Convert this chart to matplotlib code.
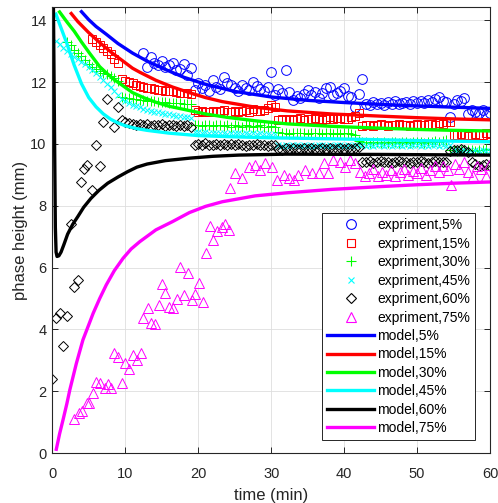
import numpy as np
import matplotlib.pyplot as plt

plt.rcParams['font.family'] = ['Liberation Sans', 'DejaVu Sans']

# experiment data, phase height (mm), sampled every 0.5 min from the start time
start5 = 12.5
h5 = [12.93, 12.5, 12.8, 12.62, 12.55, 12.7, 12.48, 12.56, 12.63, 12.4, 12.42, 12.6, 12.23, 12.46,
      11.75, 11.97, 11.8, 11.9, 11.7, 12.07, 11.85, 11.78, 12.18, 11.97, 11.9, 11.8, 11.72, 11.9,
      11.82, 11.74, 12.0, 11.88, 11.78, 11.7, 11.85, 12.33,
      11.6, 11.78, 11.64, 12.4, 11.69, 11.42, 11.55, 11.48, 11.62, 11.75, 11.58, 11.69, 11.5, 11.64,
      11.8, 11.85, 11.6, 11.64, 11.72, 11.8, 11.55, 11.53, 11.2, 11.62,
      12.1, 11.3, 11.25, 11.35, 11.28, 11.32, 11.26, 11.35, 11.3, 11.38, 11.28, 11.33, 11.36, 11.3,
      11.4, 11.34, 11.38, 11.32, 11.42, 11.36, 11.45, 11.53, 11.4, 11.35, 10.88, 11.3, 11.42, 11.38,
      11.48, 10.97, 11.1, 11.05, 11.0, 11.1, 10.94, 11.0]

start15 = 5.5
h15 = [13.4, 13.3, 13.2, 13.1, 13.0, 12.9, 12.75, 12.62,
       12.1, 12.05, 12.0, 11.97, 11.92, 11.88, 11.85, 11.82, 11.8, 11.78, 11.75, 11.74, 11.72, 11.7,
       11.7, 11.68, 11.66, 11.65, 11.64, 11.63,
       11.1, 11.05, 11.08, 11.02, 11.05, 11.08, 11.04, 11.06, 11.1, 11.03, 11.05, 11.08, 11.04, 11.07,
       11.1, 11.05, 11.12, 11.08, 11.06, 11.1, 11.15, 11.26, 11.2,
       10.78, 10.8, 10.76, 10.82, 10.78, 10.8, 10.84, 10.79, 10.82, 10.8, 10.84, 10.8, 10.78, 10.82,
       10.86, 10.8, 10.83, 10.85, 10.8, 10.82, 10.86, 10.9, 11.0,
       10.58, 10.6, 10.62, 10.58, 10.6, 10.63, 10.6, 10.58, 10.62, 10.6, 10.64, 10.6, 10.62, 10.58,
       10.6, 10.65, 10.62, 10.6, 10.64, 10.66, 10.62, 10.68, 10.65, 10.7, 10.72,
       10.3, 10.28, 10.32, 10.3, 10.27, 10.3, 10.33, 10.3, 10.28, 10.35, 10.32]

start30 = 2.0
h30 = [13.3, 13.2, 13.05, 12.95, 12.85, 12.72, 12.6, 12.5, 12.42, 12.35, 12.3, 12.25, 12.2, 12.12, 12.05,
       11.52, 11.5, 11.48, 11.47, 11.45, 11.43, 11.42, 11.4, 11.4, 11.38, 11.37, 11.36, 11.35, 11.34,
       11.33, 11.32, 11.32, 11.3, 11.3, 11.28,
       10.62, 10.6, 10.58, 10.62, 10.6, 10.57, 10.6, 10.62, 10.58, 10.6, 10.55, 10.6, 10.58, 10.56,
       10.6, 10.57, 10.55, 10.58, 10.6, 10.56, 10.55, 10.58, 10.55,
       10.38, 10.35, 10.36, 10.33, 10.35, 10.37, 10.34, 10.35, 10.32, 10.36, 10.34, 10.35, 10.33,
       10.36, 10.34, 10.32, 10.35, 10.33, 10.36, 10.34, 10.32, 10.3,
       10.08, 10.05, 10.07, 10.04, 10.06, 10.05, 10.03, 10.06, 10.04, 10.05, 10.07, 10.03, 10.05,
       10.06, 10.04, 10.05, 10.07, 10.05, 10.03, 10.06, 10.05, 10.08, 10.06, 10.1, 10.12,
       9.82, 9.8, 9.78, 9.8, 9.82, 9.79, 9.8, 9.78, 9.81, 9.8, 9.83, 9.8]

start45 = 0.5
h45 = [13.32, 13.22, 13.1, 13.0, 12.9, 12.82, 12.74, 12.66, 12.58, 12.5, 12.4, 12.3, 12.18, 12.06,
       11.95, 11.84, 11.72, 11.6,
       11.45, 11.38, 11.32, 11.27, 11.22, 11.18, 11.14, 11.1, 11.07, 11.04, 11.02, 11.0, 10.98, 10.96,
       10.94, 10.92, 10.9, 10.88, 10.87, 10.85,
       10.4, 10.38, 10.36, 10.38, 10.35, 10.37, 10.34, 10.36, 10.35, 10.33, 10.36, 10.34, 10.35,
       10.32, 10.34, 10.33, 10.35, 10.32, 10.34, 10.31, 10.33, 10.3, 10.32,
       9.97, 9.94, 9.96, 9.92, 9.95, 9.98, 9.93, 9.96, 9.94, 9.97, 9.93, 9.95, 9.98, 9.94, 9.96, 9.92,
       9.95, 9.97, 9.94, 9.96, 9.93, 9.98, 9.95, 9.97, 9.94, 9.96, 9.92, 9.95, 9.97, 9.94, 9.96, 9.93,
       9.95, 9.98, 9.94, 9.96, 9.93, 9.97, 9.95, 9.94, 9.96, 9.93, 9.95, 9.97, 9.94, 9.96, 9.93, 9.95,
       9.8, 9.78, 9.76, 9.8, 9.78, 9.75, 9.79, 9.77, 9.8, 9.76, 9.78]

# 60 %: scattered points at the start, then every 0.5 min from 9.5 min
t60_early = [0.0, 0.5, 1.0, 1.5, 2.0, 2.5, 3.0, 3.5, 4.0, 4.4, 4.8, 5.5, 6.0, 6.5, 7.0, 7.5, 8.5, 9.0]
h60_early = [2.4, 4.37, 4.53, 3.46, 4.43, 7.41, 5.38, 5.6, 8.78, 9.18, 9.33, 8.51, 9.97, 9.3,
             10.72, 11.44, 10.55, 11.19]
start60 = 9.5
h60 = [10.78, 10.72, 10.68, 10.65, 10.62, 10.66, 10.6, 10.63, 10.58, 10.62, 10.6, 10.64, 10.58,
       10.62, 10.6, 10.57, 10.62, 10.58, 10.6, 10.56,
       9.98, 10.0, 9.96, 10.02, 9.98, 9.95, 10.0, 9.97, 10.01, 9.96, 9.99, 9.95, 10.0, 9.97, 9.94,
       9.98, 9.96, 10.0, 9.95, 9.98, 9.94, 9.97, 9.95,
       9.85, 9.82, 9.86, 9.84, 9.87, 9.83, 9.85, 9.88, 9.84, 9.86, 9.83, 9.85, 9.87, 9.84, 9.86,
       9.83, 9.85, 9.88, 9.84, 9.86, 9.85, 9.87, 9.9,
       9.42, 9.4, 9.44, 9.38, 9.42, 9.45, 9.4, 9.43, 9.38, 9.41, 9.44, 9.4, 9.42, 9.38, 9.43, 9.4,
       9.45, 9.41, 9.38, 9.42, 9.44, 9.4, 9.43, 9.41,
       9.78, 9.82, 9.8, 9.85, 9.8, 9.75,
       9.4, 9.35, 9.3, 9.33, 9.36, 9.3]

t75 = [3.0, 3.6, 4.1, 4.7, 5.1, 5.6, 6.0, 6.6, 7.2, 7.6, 8.1, 8.5, 9.0, 9.5, 10.0, 10.5, 11.0, 11.6,
       12.2, 12.5, 13.1, 13.5, 14.1, 14.6, 15.0, 15.5, 16.0, 16.6, 17.1, 17.5, 18.1, 18.6, 19.1, 19.6,
       20.1, 20.6, 21.1, 21.6, 22.0, 22.6, 23.2, 23.7, 24.2,
       24.4, 25.1, 26.0, 26.9, 27.8, 28.5, 29.2, 30.1, 30.8, 31.7, 32.4, 33.1, 33.7, 34.7, 35.6, 36.5,
       37.2, 37.8, 38.5, 39.4, 40.1, 40.8, 41.5,
       42.2, 42.8, 43.4, 44.0, 44.6, 45.2, 45.8, 46.4, 47.0, 47.6, 48.2, 48.8, 49.4, 50.0, 50.6, 51.2,
       51.8, 52.4, 53.0, 53.6, 54.2, 54.6, 55.2, 55.8, 56.4, 57.0, 57.6, 58.2, 58.8, 59.4, 59.8]
h75 = [1.09, 1.28, 1.37, 1.61, 1.61, 1.93, 2.31, 2.26, 2.09, 2.23, 2.09, 3.23, 3.12, 2.28, 2.9, 2.71,
       3.17, 3.01, 3.23, 4.36, 4.7, 4.2, 4.17, 4.79, 5.47, 5.19, 4.73, 4.68, 4.98, 6.03, 5.11, 5.83,
       4.95, 5.15, 5.49, 4.9, 6.48, 7.35, 6.89, 7.19, 7.3, 7.41, 7.22,
       8.57, 9.07, 8.89, 9.27, 9.32, 9.16, 9.38, 9.27, 8.83, 9.0, 8.89, 8.83, 9.0, 9.16, 9.05, 9.05,
       9.39, 9.05, 9.48, 9.43, 9.27, 9.48, 9.38,
       9.1, 8.95, 9.05, 9.2, 8.95, 9.1, 9.0, 9.15, 8.95, 9.08, 9.2, 9.0, 9.12, 9.05, 9.22, 9.0,
       9.15, 9.28, 9.1, 9.3, 9.15, 8.67, 9.35, 9.2, 9.4, 9.1, 8.95, 9.3, 9.2, 8.95, 9.32]

# model curves
m5_t = [4.0, 5.0, 6.0, 7.4, 9.0, 11.0, 13.0, 15.6, 18.0, 21.0, 25.0, 30.0, 35.0, 40.0, 45.0, 50.0, 55.0, 60.0]
m5_h = [14.28, 14.02, 13.8, 13.55, 13.25, 12.94, 12.68, 12.4, 12.16, 11.93, 11.7, 11.52, 11.41, 11.34,
        11.28, 11.23, 11.19, 11.15]
m15_t = [2.6, 3.5, 5.0, 6.5, 8.0, 9.7, 11.0, 12.0, 14.2, 16.5, 18.8, 21.0, 23.3, 27.8, 32.2, 38.3,
         45.0, 50.0, 55.0, 60.0]
m15_h = [14.22, 13.96, 13.6, 13.28, 12.98, 12.68, 12.45, 12.32, 12.06, 11.84, 11.66, 11.5, 11.37,
         11.19, 11.07, 10.97, 10.9, 10.85, 10.81, 10.78]
m30_t = [1.0, 2.0, 3.0, 4.0, 5.1, 6.5, 7.4, 8.5, 9.7, 11.0, 12.5, 14.2, 16.0, 18.8, 21.0, 24.0, 27.8,
         32.2, 38.3, 45.0, 50.0, 55.0, 60.0]
m30_h = [14.27, 13.95, 13.65, 13.3, 12.94, 12.5, 12.3, 12.08, 11.88, 11.66, 11.5, 11.35, 11.22, 11.08,
         10.97, 10.86, 10.75, 10.65, 10.57, 10.51, 10.47, 10.44, 10.42]
m45_t = [0.5, 1.0, 2.0, 3.0, 4.0, 5.0, 6.0, 7.0, 8.0, 9.0, 10.0, 11.5, 13.0, 16.0, 20.0, 25.0, 30.0,
         40.0, 50.0, 60.0]
m45_h = [14.2, 13.88, 13.25, 12.55, 11.95, 11.5, 11.2, 10.97, 10.8, 10.68, 10.59, 10.5, 10.44, 10.35,
         10.27, 10.23, 10.2, 10.16, 10.11, 10.07]
m60_t = [0.15, 0.3, 0.42, 0.52, 0.65, 0.9, 1.2, 1.6, 2.1, 2.8, 3.5, 4.3, 5.3, 6.4, 7.6, 9.0, 10.3,
         11.6, 13.0, 15.5, 18.8, 22.0, 25.6, 32.0, 45.0, 60.0]
m60_h = [14.6, 10.5, 7.3, 6.5, 6.36, 6.38, 6.5, 6.75, 7.08, 7.4, 7.65, 7.95, 8.24, 8.5, 8.73, 8.93,
         9.1, 9.25, 9.35, 9.46, 9.54, 9.6, 9.64, 9.67, 9.66, 9.64]
m75_t = [0.55, 1.0, 1.5, 2.0, 2.4, 3.3, 4.2, 5.0, 5.6, 6.5, 7.4, 8.5, 9.7, 10.8, 12.0, 14.2, 16.5,
         18.8, 21.0, 23.3, 27.8, 32.2, 38.3, 45.0, 50.0, 55.0, 60.0]
m75_h = [0.12, 0.62, 1.1, 1.6, 2.04, 2.9, 3.66, 4.15, 4.52, 5.0, 5.44, 5.9, 6.3, 6.6, 6.84, 7.22,
         7.49, 7.78, 7.98, 8.13, 8.32, 8.42, 8.53, 8.62, 8.68, 8.73, 8.77]

BLUE, RED, GREEN, CYAN, BLACK, MAGENTA = '#0000ff', '#ff0000', '#00ff00', '#00ffff', '#000000', '#ff00ff'
exp_colors = [BLUE, RED, GREEN, CYAN, BLACK, MAGENTA]


def sample_times(start, values):
    return start + 0.5 * np.arange(len(values))


fig = plt.figure(figsize=(4.98, 5.03), dpi=100)
ax = fig.add_axes([0.105, 0.0994, 0.879, 0.8866])

mk = dict(linestyle='none', mfc='none', mew=0.7)
ax.plot(sample_times(start5, h5), h5, marker='o', mec=BLUE, ms=7, label='expriment,5%', **mk)
ax.plot(sample_times(start15, h15), h15, marker='s', mec=RED, ms=6.3, label='expriment,15%', **mk)
ax.plot(sample_times(start30, h30), h30, marker='+', mec=GREEN, ms=7, label='expriment,30%', **mk)
ax.plot(sample_times(start45, h45), h45, marker='x', mec=CYAN, ms=5, label='expriment,45%', **mk)
t60 = np.concatenate([t60_early, sample_times(start60, h60)])
ax.plot(t60, h60_early + h60, marker='D', mec=BLACK, ms=5.5, label='expriment,60%', **mk)
ax.plot(t75, h75, marker='^', mec=MAGENTA, ms=7, label='expriment,75%', **mk)

lw = 2.4
ax.plot(m5_t, m5_h, color=BLUE, lw=lw, label='model,5%')
ax.plot(m15_t, m15_h, color=RED, lw=lw, label='model,15%')
ax.plot(m30_t, m30_h, color=GREEN, lw=lw, label='model,30%')
ax.plot(m45_t, m45_h, color=CYAN, lw=lw, label='model,45%')
ax.plot(m60_t, m60_h, color=BLACK, lw=lw, label='model,60%')
ax.plot(m75_t, m75_h, color=MAGENTA, lw=lw, label='model,75%')

ax.set_xlim(0, 60)
ax.set_ylim(0, 14.43)
ax.set_xticks(range(0, 61, 10))
ax.set_yticks(range(0, 15, 2))
ax.grid(True, color='#dedede', lw=0.6)
ax.set_axisbelow(True)
ax.tick_params(direction='in', top=True, right=True, length=4, width=0.7,
               labelsize=10.5, colors='#262626')
ax.tick_params(axis='x', pad=10)
ax.tick_params(axis='y', pad=4)
for s in ax.spines.values():
    s.set_linewidth(0.8)
    s.set_color('#262626')

ax.set_xlabel('time (min)', fontsize=12, color='#262626', labelpad=5)
ax.set_ylabel('phase height (mm)', fontsize=12, color='#262626', labelpad=2)

leg = ax.legend(loc='lower right', bbox_to_anchor=(0.965, 0.029), borderaxespad=0,
                fontsize=10, numpoints=1, handlelength=3.4, handletextpad=0.2,
                labelspacing=0.32, borderpad=0.35, fancybox=False, framealpha=1,
                edgecolor='#262626')
leg.get_frame().set_linewidth(0.7)
# make sure the marker handles keep their colours
for handle, c in zip(leg.legend_handles[:6], exp_colors):
    handle.set_markeredgecolor(c)
    handle.set_markeredgewidth(0.8)

fig.savefig('out.png', dpi=100)
